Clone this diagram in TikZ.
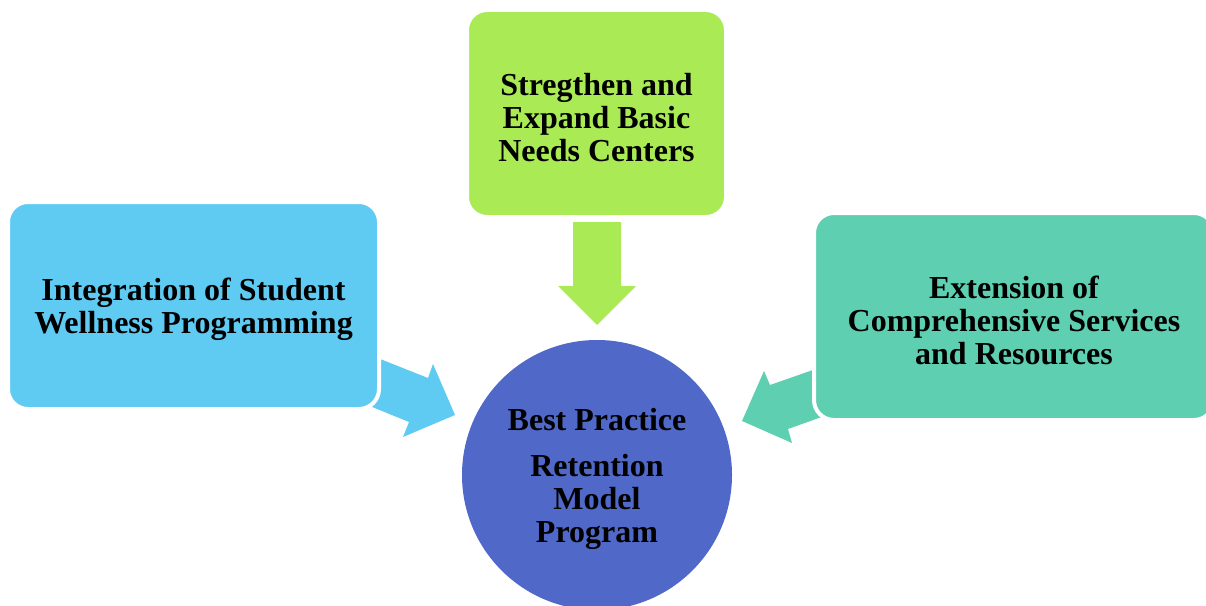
\documentclass[tikz,border=0pt]{standalone}
\usepackage{fontspec}
\setmainfont{Liberation Serif}
\definecolor{cblue}{RGB}{95,203,243}
\definecolor{cgreen}{RGB}{170,235,85}
\definecolor{cteal}{RGB}{94,207,177}
\definecolor{ccircle}{RGB}{80,104,200}
\newcommand{\lowerstrut}{\rule{0pt}{23pt}}
\begin{document}
\begin{tikzpicture}[x=0.75pt,y=-0.75pt,
  box/.style={rectangle,rounded corners=15pt,draw=white,line width=3pt,inner sep=0pt,outer sep=0pt,
    align=center,font=\bfseries\fontsize{24}{24.75}\selectfont,minimum height=155.25pt},
  hub/.style={circle,inner sep=0pt,minimum size=202.5pt,align=center,
    font=\bfseries\fontsize{24}{24.75}\selectfont}]
\useasboundingbox (0,0) rectangle (1206,606);
% arrows
\fill[cgreen] (573,222) -- (621,222) -- (621,286) -- (636,286) -- (597,325) -- (558,286) -- (573,286) -- cycle;
\fill[cblue] (360,351) -- (428,378) -- (433,364) -- (455,415) -- (403,437) -- (409,422) -- (355,400) -- cycle;
\fill[cteal] (830,364) -- (770,385) -- (764,371) -- (742,421) -- (792,443) -- (788,429) -- (830,414) -- cycle;
% boxes
\node[box,fill=cblue,minimum width=278.25pt] (wellness) at (193.5,305.5)
  {\lowerstrut Integration of Student\\Wellness Programming};
\node[box,fill=cgreen,minimum width=194.25pt] (needs) at (596.5,113.5)
  {\lowerstrut Stregthen and\\Expand Basic\\Needs Centers};
\node[box,fill=cteal,minimum width=300pt] (services) at (1014,316.5)
  {\lowerstrut Extension of\\Comprehensive Services\\and Resources};
\node[hub,fill=ccircle] (hub) at (597,475)
  {\lowerstrut Best Practice\\[9.75pt]Retention\\Model\\Program};
\end{tikzpicture}
\end{document}
